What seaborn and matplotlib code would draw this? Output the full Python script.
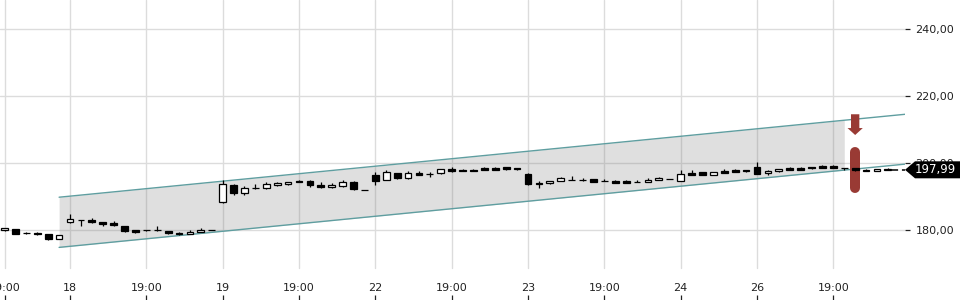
import numpy as np
import matplotlib
matplotlib.use("Agg")
import matplotlib.pyplot as plt
import seaborn as sns
from matplotlib.patches import Polygon
from matplotlib.transforms import IdentityTransform

# ---------------- data ----------------
slots = list(range(-6, 76))
opens = [179.9, 180.3, 179.15, 179.2, 178.8, 177.4,
         182.3, 183.0, 183.1, 182.4, 182.2, 181.2, 179.9, 179.9, 179.85, 179.6, 179.2, 178.9, 179.4, 180.0,
         188.3, 193.6, 191.0, 192.45, 192.5, 193.4, 193.7, 194.7, 194.7, 193.6, 192.8, 193.1, 194.4, 192.0,
         196.4, 195.0, 196.9, 195.4, 197.1, 196.75, 196.9, 198.2, 197.8, 197.8, 198.6, 198.6, 198.7, 198.5,
         196.7, 194.0, 193.9, 194.6, 195.05, 195.05, 195.1, 194.75, 194.7, 194.6, 194.45, 194.3, 194.9, 195.25,
         194.7, 197.1, 197.2, 196.5, 197.7, 197.9, 197.9,
         198.7, 197.0, 197.5, 198.5, 198.5, 198.8, 199.1, 199.1, 198.45, 198.4, 198.0, 197.6, 198.2]
highs = [180.7, 180.4, 179.3, 179.3, 178.9, 178.5,
         184.8, 183.1, 183.6, 182.5, 182.6, 181.3, 180.0, 180.1, 181.1, 179.7, 179.3, 180.0, 180.5, 180.1,
         194.8, 193.8, 193.2, 193.7, 194.3, 194.2, 194.4, 195.0, 194.8, 194.4, 194.0, 194.9, 194.5, 192.05,
         197.2, 197.9, 197.0, 197.6, 197.7, 197.4, 198.2, 198.7, 198.2, 198.2, 198.9, 198.9, 198.9, 198.55,
         197.1, 194.6, 194.65, 195.8, 196.1, 195.5, 195.2, 195.2, 194.8, 194.9, 194.8, 195.5, 195.7, 195.3,
         197.9, 197.9, 197.3, 197.3, 198.2, 198.3, 198.0,
         200.3, 197.8, 198.3, 198.9, 198.95, 198.85, 199.4, 199.4, 198.5, 198.5, 198.1, 198.25, 198.5]
lows = [179.8, 178.8, 178.9, 178.6, 177.1, 177.3,
        182.2, 181.1, 182.2, 181.2, 181.3, 179.3, 179.1, 179.7, 179.6, 178.8, 178.6, 178.8, 179.3, 179.95,
        188.2, 190.5, 190.5, 192.4, 192.4, 193.3, 193.6, 194.2, 193.0, 192.7, 192.7, 193.0, 192.1, 191.9,
        193.4, 194.9, 195.3, 195.3, 196.3, 195.9, 196.8, 197.4, 197.5, 197.6, 197.9, 197.8, 198.0, 198.05,
        193.6, 192.5, 193.85, 194.5, 194.9, 194.7, 194.3, 194.5, 193.9, 193.9, 194.3, 194.2, 194.85, 195.15,
        194.6, 196.4, 196.4, 196.4, 197.0, 197.3, 197.45,
        196.6, 196.4, 197.4, 197.9, 197.9, 198.35, 198.5, 198.5, 197.9, 197.7, 197.55, 197.55, 197.9]
closes = [180.6, 178.9, 179.05, 178.7, 177.4, 178.4,
          183.3, 183.05, 182.3, 181.7, 181.4, 179.7, 179.3, 179.85, 179.9, 179.0, 178.8, 179.5, 180.0, 180.05,
          193.7, 191.0, 192.5, 192.5, 193.7, 194.1, 194.3, 194.3, 193.5, 192.8, 193.5, 194.4, 192.2, 191.95,
          194.7, 197.2, 195.4, 196.9, 196.4, 196.7, 198.1, 197.5, 197.75, 197.75, 198.0, 198.0, 198.1, 198.1,
          193.7, 193.8, 194.6, 195.5, 195.0, 195.0, 194.4, 194.7, 194.0, 194.0, 194.4, 195.0, 195.6, 195.2,
          196.7, 196.5, 196.5, 197.2, 197.1, 197.4, 197.5,
          196.7, 197.7, 198.2, 198.0, 198.0, 198.4, 198.6, 198.6, 198.4, 197.8, 197.6, 198.2, 197.99]

tick_slots = [-6, 0, 7, 14, 21, 28, 35, 42, 49, 56, 63, 70]
tick_labels = ["19:00", "18", "19:00", "19", "19:00", "22", "19:00", "23", "19:00", "24", "26", "19:00"]
y_ticks = [180, 200, 220, 240]

channel_x = [-1.0, 76.6]
channel_top = [189.8, 214.6]
channel_bottom = [174.8, 199.7]
channel_fill_end = 71.0

last_price = 197.99
signal_slot = 72
arrow_from, arrow_to = 214.6, 208.4
signal_bar_top, signal_bar_bottom = 204.8, 191.1

# ---------------- style ----------------
sns.set_theme(style="white")
plt.rcParams["font.family"] = ["DejaVu Sans"]

RED = "#993a34"
GRID = "#dcdcdc"
TEAL = "#5f9ea0"

fig = plt.figure(figsize=(9.6, 3.0), dpi=100)
ax = fig.add_axes([0, 0, 905 / 960, 1])
ax.set_xlim(-6.42, 76.57)
ax.set_ylim(159.07, 248.76)

# grid
for y in y_ticks:
    ax.axhline(y, color=GRID, lw=1, zorder=0)
for s in tick_slots:
    ax.axvline(s, ymin=0.107, ymax=1, color=GRID, lw=1, zorder=0)

# channel
fx = np.array([channel_x[0], channel_fill_end])
ftop = np.interp(fx, channel_x, channel_top)
fbot = np.interp(fx, channel_x, channel_bottom)
ax.fill_between(fx, fbot, ftop, color="#808080", alpha=0.25, lw=0, zorder=1)
sns.lineplot(x=channel_x, y=channel_top, color=TEAL, lw=1, ax=ax, sort=False, zorder=2)
sns.lineplot(x=channel_x, y=channel_bottom, color=TEAL, lw=1, ax=ax, sort=False, zorder=2)

# signal marks
ax.plot([signal_slot, signal_slot], [signal_bar_bottom + 1.5, signal_bar_top - 1.5],
        color=RED, lw=7.2, solid_capstyle="round", zorder=3)
ax.annotate("", xy=(signal_slot, arrow_to), xytext=(signal_slot, arrow_from),
            arrowprops=dict(arrowstyle="simple,head_length=0.5,head_width=1.1,tail_width=0.6",
                            fc=RED, ec="none", shrinkA=0, shrinkB=0, mutation_scale=10),
            zorder=3)

# candles
o = np.array(opens); h = np.array(highs); l = np.array(lows); c = np.array(closes)
x = np.array(slots)
ax.vlines(x, l, h, color="black", lw=0.9, zorder=4)
body_bottom = np.minimum(o, c)
body_h = np.maximum(np.abs(c - o), 0.02)
colors = ["white" if cc >= oo else "black" for oo, cc in zip(o, c)]
ax.bar(x, body_h, bottom=body_bottom, width=0.62, color=colors, edgecolor="black",
       linewidth=0.9, zorder=5)

# last price dashed line
ax.plot([x[-1] + 0.4, 76.57], [last_price, last_price], color="black", lw=1.1,
        ls=(0, (4, 2.5)), zorder=4)

# axes cosmetics
for sp in ax.spines.values():
    sp.set_visible(False)
ax.grid(False)
ax.yaxis.tick_right()
ax.set_yticks(y_ticks)
ax.set_yticklabels([f"{v:.2f}".replace(".", ",") for v in y_ticks])
ax.tick_params(axis="y", direction="out", length=3.6, width=0.9, pad=4, labelsize=8,
               colors="#222222", right=True, left=False)
ax.set_xticks(tick_slots)
ax.set_xticklabels(tick_labels)
ax.tick_params(axis="x", direction="in", length=3.6, width=0.9, pad=-12, labelsize=8,
               colors="#222222", bottom=True)
ax.set_xlabel("")
ax.set_ylabel("")

# price tag
x_tip = ax.transAxes.transform((1, 0))[0]
yc = ax.transData.transform((0, last_price))[1]
hh = 8.5
W = fig.bbox.width
tag = Polygon([(x_tip, yc), (x_tip + 10, yc + hh), (W, yc + hh), (W, yc - hh), (x_tip + 10, yc - hh)],
              closed=True, fc="black", ec="none", transform=IdentityTransform(), zorder=10)
fig.add_artist(tag)
fig.text((x_tip + 30.5) / W, yc / fig.bbox.height, f"{last_price:.2f}".replace(".", ","),
         color="white", fontsize=8.5, ha="center", va="center", zorder=11)

fig.savefig("out.png", dpi=100)
